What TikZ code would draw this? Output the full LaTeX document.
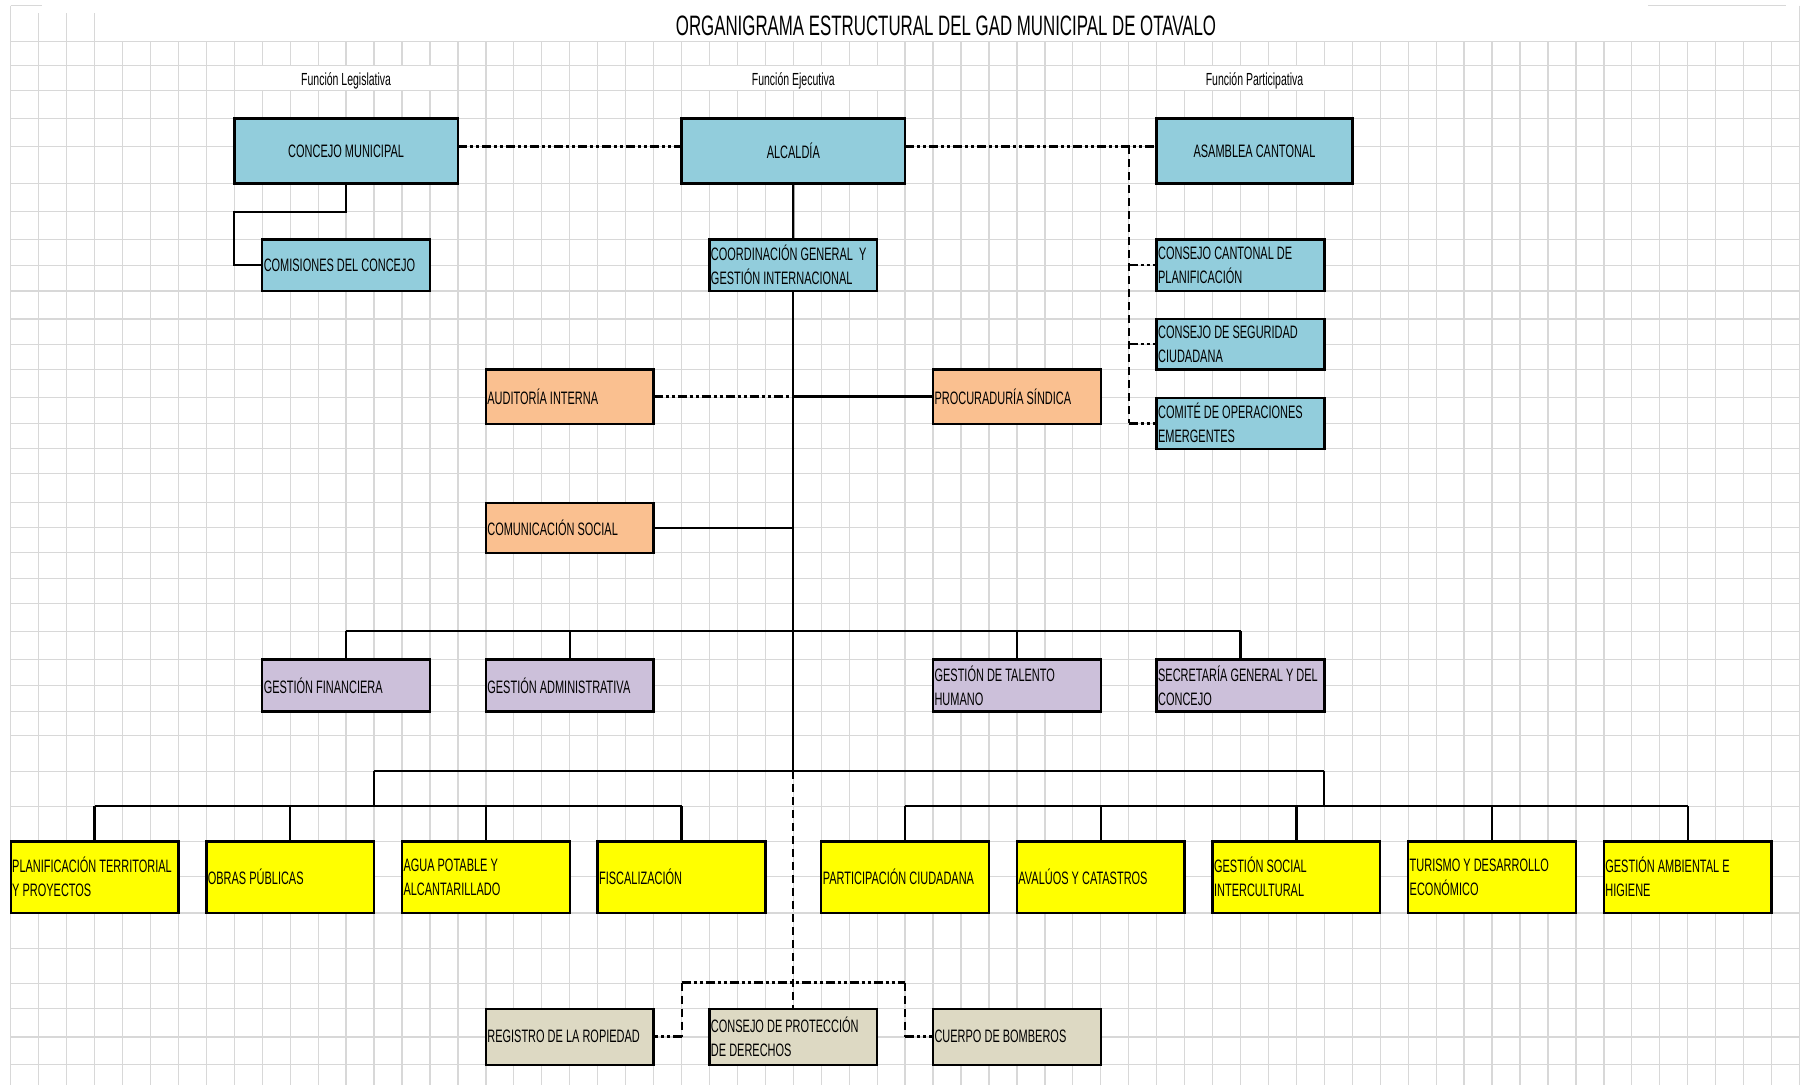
\documentclass[tikz,border=0pt]{standalone}
\usepackage{fontspec}
\setmainfont{Liberation Sans}
\newfontfamily\narrowfont[FakeStretch=0.6]{Liberation Sans}
\newfontfamily\boxnarrow[FakeStretch=0.61]{Liberation Sans}
\usetikzlibrary{calc}
\definecolor{gridc}{RGB}{216,216,216}
\definecolor{bluebox}{RGB}{146,205,220}
\definecolor{orangebox}{RGB}{250,192,144}
\definecolor{purplebox}{RGB}{204,192,218}
\definecolor{yellowbox}{RGB}{255,255,0}
\definecolor{beigebox}{RGB}{221,217,195}
\newcommand{\boxfont}{\boxnarrow\fontsize{18}{24}\selectfont}
\newcommand{\lblfont}{\narrowfont\fontsize{17.5}{20}\selectfont}
\newcommand{\titlefont}{\narrowfont\fontsize{28.1}{30}\selectfont}
\begin{document}
\begin{tikzpicture}[x=1pt,y=-1pt,
  gridline/.style={draw=gridc,line width=1.3pt},
  box/.style={draw=black,line width=2.4pt,anchor=north west,outer sep=0pt,inner ysep=0pt,inner xsep=1.5pt,font=\boxfont,align=flush left,text=black},
  bbox/.style={box,fill=bluebox},
  obox/.style={box,fill=orangebox},
  pbox/.style={box,fill=purplebox},
  ybox/.style={box,fill=yellowbox},
  tbox/.style={box,fill=beigebox},
  c6/.style={text width=164.7pt},
  c7/.style={text width=192.65pt,align=flush center},
  c8/.style={text width=220.6pt,align=flush center},
  conn/.style={draw=black,line width=2.2pt},
  ddot/.style={draw=black,line width=2.6pt,dash pattern=on 9pt off 3pt on 3pt off 3pt on 3pt off 3pt},
  dashl/.style={draw=black,line width=2pt,dash pattern=on 8pt off 5pt},
  lbl/.style={font=\lblfont,anchor=base,inner sep=0pt}
]
\useasboundingbox (0,0) rectangle (1802,1085);
\fill[white] (0,0) rectangle (1802,1085);
% ---------- spreadsheet grid ----------
\foreach \k in {0,...,64}
  \draw[gridline] ({10.7+27.95*\k},41.7) -- ({10.7+27.95*\k},1085);
\foreach \yy in {41.7,65.7,90.7,118.3,146.7,183.3,211.7,239.3,265.7,291,319,344.3,369.3,397.7,423.7,448.7,473.7,502.7,527.7,552.7,578.7,603.7,631.3,659.3,685.3,711.3,735.7,771.3,806.3,841.3,876.3,913,948.7,983.7,1008.7,1037,1064.7}
  \draw[gridline] (10.7,\yy) -- (1799.5,\yy);
\draw[gridline] (10.7,5.7) -- (10.7,41.7);
\draw[gridline] (10.7,5.7) -- (42,5.7);
\foreach \k in {1,2,3}
  \draw[gridline] ({10.7+27.95*\k},13.3) -- ({10.7+27.95*\k},41.7);
\draw[gridline] (1648,5.7) -- (1786,5.7);
\draw[gridline] (1799.5,5.7) -- (1799.5,41.7);
% merged label cells
\fill[white] (235,66.4) rectangle (457.2,90);
\fill[white] (682.2,66.4) rectangle (904.4,90);
\fill[white] (1157.3,66.4) rectangle (1351.6,90);
% ---------- title and labels ----------
\node[anchor=base,font=\titlefont,inner sep=0pt] (title) at (946,35) {ORGANIGRAMA ESTRUCTURAL DEL GAD MUNICIPAL DE OTAVALO};
\node[lbl] (fleg) at (346.1,85) {Función Legislativa};
\node[lbl] (fejec) at (793.3,85) {Función Ejecutiva};
\node[lbl] (fpart) at (1254.5,85) {Función Participativa};
% ---------- boxes ----------
\node[bbox,c8,minimum height=65pt] (cm) at (234.3,118.3) {CONCEJO MUNICIPAL};
\node[bbox,c8,minimum height=65pt] (alc) at (681.5,118.3) {ALCALDÍA};
\node[bbox,c7,minimum height=65pt] (asa) at (1156.65,118.3) {ASAMBLEA CANTONAL};
\node[bbox,c6,minimum height=51.7pt] (com) at (262.25,239.3) {COMISIONES~DEL~CONCEJO};
\node[bbox,c6,minimum height=51.7pt] (coord) at (709.45,239.3) {COORDINACIÓN~GENERAL\ \ Y\\GESTIÓN~INTERNACIONAL};
\node[bbox,c6,minimum height=51.7pt] (ccp) at (1156.65,239.3) {CONSEJO~CANTONAL~DE\\PLANIFICACIÓN};
\node[bbox,c6,minimum height=50.3pt] (seg) at (1156.65,319) {CONSEJO~DE~SEGURIDAD\\CIUDADANA};
\node[bbox,c6,minimum height=51pt] (coe) at (1156.65,397.7) {COMITÉ~DE~OPERACIONES\\EMERGENTES};
\node[obox,c6,minimum height=54.4pt] (aud) at (485.85,369.3) {AUDITORÍA~INTERNA};
\node[obox,c6,minimum height=54.4pt] (proc) at (933.05,369.3) {PROCURADURÍA~SÍNDICA};
\node[obox,c6,minimum height=50pt] (csoc) at (485.85,502.7) {COMUNICACIÓN~SOCIAL};
\node[pbox,c6,minimum height=52pt] (gf) at (262.25,659.3) {GESTIÓN~FINANCIERA};
\node[pbox,c6,minimum height=52pt] (ga) at (485.85,659.3) {GESTIÓN~ADMINISTRATIVA};
\node[pbox,c6,minimum height=52pt] (gth) at (933.05,659.3) {GESTIÓN~DE~TALENTO\\HUMANO};
\node[pbox,c6,minimum height=52pt] (sec) at (1156.65,659.3) {SECRETARÍA~GENERAL~Y~DEL\\CONCEJO};
\node[ybox,c6,minimum height=71.7pt] (plan) at (10.7,841.3) {PLANIFICACIÓN~TERRITORIAL\\Y~PROYECTOS};
\node[ybox,c6,minimum height=71.7pt] (obras) at (206.35,841.3) {OBRAS~PÚBLICAS};
\node[ybox,c6,minimum height=71.7pt] (agua) at (402.0,841.3) {AGUA~POTABLE~Y\\ALCANTARILLADO};
\node[ybox,c6,minimum height=71.7pt] (fisc) at (597.65,841.3) {FISCALIZACIÓN};
\node[ybox,c6,minimum height=71.7pt] (part) at (821.25,841.3) {PARTICIPACIÓN~CIUDADANA};
\node[ybox,c6,minimum height=71.7pt] (aval) at (1016.9,841.3) {AVALÚOS~Y~CATASTROS};
\node[ybox,c6,minimum height=71.7pt] (gsoc) at (1212.55,841.3) {GESTIÓN~SOCIAL\\INTERCULTURAL};
\node[ybox,c6,minimum height=71.7pt] (tur) at (1408.2,841.3) {TURISMO~Y~DESARROLLO\\ECONÓMICO};
\node[ybox,c6,minimum height=71.7pt] (amb) at (1603.85,841.3) {GESTIÓN~AMBIENTAL~E\\HIGIENE};
\node[tbox,c6,minimum height=56pt] (reg) at (485.85,1008.7) {REGISTRO~DE~LA~ROPIEDAD};
\node[tbox,c6,minimum height=56pt] (cpd) at (709.45,1008.7) {CONSEJO~DE~PROTECCIÓN\\DE~DERECHOS};
\node[tbox,c6,minimum height=56pt] (cb) at (933.05,1008.7) {CUERPO~DE~BOMBEROS};
% ---------- junction coordinates ----------
\coordinate (yT) at (0,146.2);
\coordinate (pj) at (1128.7,146.2);
\coordinate (c2) at (234.3,211.7);
\coordinate (b1) at (0,631.3);
\coordinate (b2L) at (374.05,771.3);
\coordinate (b2R) at (1324.35,771.3);
\coordinate (b3) at (0,806.3);
\coordinate (b4L) at (681.5,982.7);
\coordinate (b4R) at (905.1,982.7);
% ---------- connectors ----------
\draw[ddot] (cm.east |- yT) -- (alc.west |- yT);
\draw[ddot] (alc.east |- yT) -- (asa.west |- yT);
\draw[dashl] (pj) -- (pj |- coe.west);
\draw[ddot] (pj |- ccp.west) -- (ccp.west);
\draw[ddot] (pj |- seg.west) -- (seg.west);
\draw[ddot] (pj |- coe.west) -- (coe.west);
\draw[conn] (cm.south) -- (cm.south |- c2) -- (c2) -- (c2 |- com.west) -- (com.west);
\draw[conn] (alc.south) -- (coord.north);
\draw[conn] (coord.south) -- (coord.south |- b2L);
\draw[ddot] (aud.east) -- (aud.east -| coord.south);
\draw[conn] (proc.west -| coord.south) -- (proc.west);
\draw[conn] (csoc.east) -- (csoc.east -| coord.south);
\draw[conn] (gf.north |- b1) -- (sec.north |- b1);
\foreach \n in {gf,ga,gth,sec}
  \draw[conn] (\n.north |- b1) -- (\n.north);
\draw[conn] (b2L) -- (b2R);
\draw[conn] (b2L) -- (b2L |- b3);
\draw[conn] (b2R) -- (b2R |- b3);
\draw[conn] (plan.north |- b3) -- (fisc.north |- b3);
\draw[conn] (part.north |- b3) -- (amb.north |- b3);
\foreach \n in {plan,obras,agua,fisc,part,aval,gsoc,tur,amb}
  \draw[conn] (\n.north |- b3) -- (\n.north);
\draw[dashl] (coord.south |- b2L) -- (cpd.north);
\draw[ddot] (b4L) -- (b4R);
\draw[dashl] (b4L) -- (b4L |- reg.east);
\draw[ddot] (b4L |- reg.east) -- (reg.east);
\draw[dashl] (b4R) -- (b4R |- cb.west);
\draw[ddot] (b4R |- cb.west) -- (cb.west);
\end{tikzpicture}
\end{document}
